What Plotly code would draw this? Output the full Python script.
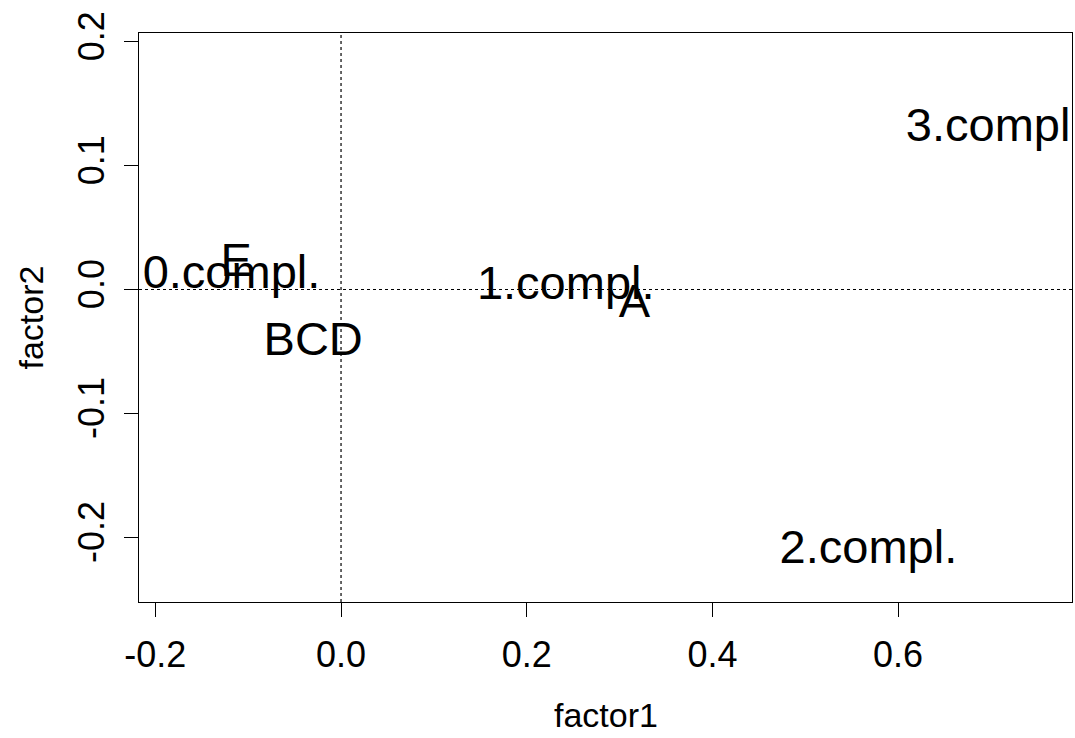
import plotly.graph_objects as go

labels = ["0.compl.", "1.compl.", "2.compl.", "3.compl.", "A", "BCD", "E"]
factor1 = [-0.118, 0.242, 0.568, 0.704, 0.316, -0.030, -0.113]
factor2 = [0.011, 0.002, -0.211, 0.129, -0.0125, -0.043, 0.020]

x_ticks = [-0.2, 0.0, 0.2, 0.4, 0.6]
x_ticklabels = ["-0.2", "0.0", "0.2", "0.4", "0.6"]
y_ticks = [-0.2, -0.1, 0.0, 0.1, 0.2]
y_ticklabels = ["-0.2", "-0.1", "0.0", "0.1", "0.2"]

x_range = [-0.2176, 0.7873]
y_range = [-0.2522, 0.207]

FONT = "Liberation Sans, Arial, sans-serif"

fig = go.Figure()
fig.add_trace(go.Scatter(
    x=factor1, y=factor2, text=labels, mode="text",
    textposition="middle center",
    textfont=dict(family=FONT, size=47, color="black"),
    cliponaxis=True, hoverinfo="skip", showlegend=False,
))

fig.add_vline(x=0, line=dict(color="black", width=1.2, dash="dot"))
fig.add_hline(y=0, line=dict(color="black", width=1.2, dash="dot"))

axis_common = dict(
    showgrid=False, zeroline=False, showline=True, mirror=True,
    linecolor="black", linewidth=1.3, ticks="outside", ticklen=14,
    tickwidth=1.3, tickcolor="black",
    tickfont=dict(family=FONT, size=36, color="black"),
)

fig.update_xaxes(range=x_range, tickvals=x_ticks, ticktext=x_ticklabels,
                 ticklabelstandoff=7, **axis_common)
fig.update_yaxes(range=y_range, tickvals=y_ticks, ticktext=y_ticklabels,
                 tickangle=-90, ticklabelstandoff=5, **axis_common)

fig.add_annotation(text="factor1", xref="paper", yref="paper", x=0.5, y=-0.1986,
                   xanchor="center", yanchor="middle", showarrow=False,
                   font=dict(family=FONT, size=34, color="black"))
fig.add_annotation(text="factor2", xref="paper", yref="paper", x=-0.1168, y=0.5,
                   xanchor="center", yanchor="middle", showarrow=False, textangle=-90,
                   font=dict(family=FONT, size=34, color="black"))

fig.update_layout(
    width=1075, height=738,
    margin=dict(l=139, r=3, t=33, b=136),
    paper_bgcolor="white", plot_bgcolor="white",
)

fig.write_html("out.html")
